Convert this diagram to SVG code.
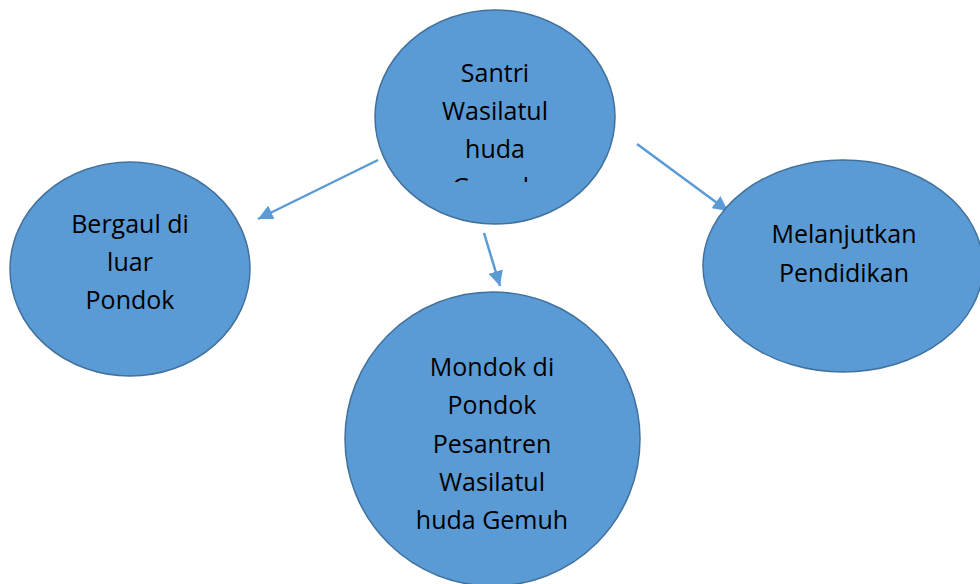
<svg xmlns="http://www.w3.org/2000/svg" width="980" height="584" viewBox="0 0 980 584">
<style>
.node{fill:#5b9bd5;stroke:#41719c;stroke-width:1.5}
.lbl{font-family:"Open Sans","Liberation Sans",sans-serif;font-size:25px;fill:#000;text-anchor:middle}
.conn{stroke:#5b9bd5;stroke-width:2.5;fill:none}
</style>
<defs>
<marker id="ah" viewBox="0 0 10 10" refX="10" refY="5" markerWidth="6" markerHeight="6" orient="auto" markerUnits="strokeWidth">
<path d="M0,0 L10,5 L0,10 z" fill="#5b9bd5"/>
</marker>
<clipPath id="topclip"><rect x="370" y="0" width="260" height="182"/></clipPath>
</defs>
<rect width="980" height="584" fill="#fff"/>
<g id="connectors">
<line class="conn" x1="378" y1="160" x2="258" y2="219" marker-end="url(#ah)"/>
<line class="conn" x1="484" y1="233" x2="500" y2="286" marker-end="url(#ah)"/>
<line class="conn" x1="637" y1="144" x2="728" y2="211" marker-end="url(#ah)"/>
</g>
<g id="santri">
<ellipse class="node" cx="495" cy="117" rx="120" ry="107"/>
<text class="lbl" x="495" y="82">Santri</text>
<text class="lbl" x="495" y="120">Wasilatul</text>
<text class="lbl" x="495" y="158">huda</text>
<text class="lbl" x="495" y="196" clip-path="url(#topclip)">Gemuh</text>
</g>
<g id="bergaul">
<ellipse class="node" cx="130" cy="269" rx="120" ry="107"/>
<text class="lbl" x="130" y="233">Bergaul di</text>
<text class="lbl" x="130" y="271">luar</text>
<text class="lbl" x="130" y="309">Pondok</text>
</g>
<g id="melanjutkan">
<ellipse class="node" cx="843" cy="266" rx="140" ry="106"/>
<text class="lbl" x="844" y="243">Melanjutkan</text>
<text class="lbl" x="844" y="282">Pendidikan</text>
</g>
<g id="mondok">
<ellipse class="node" cx="492.5" cy="439" rx="147.5" ry="147"/>
<text class="lbl" x="492" y="376">Mondok di</text>
<text class="lbl" x="492" y="414">Pondok</text>
<text class="lbl" x="492" y="453">Pesantren</text>
<text class="lbl" x="492" y="491">Wasilatul</text>
<text class="lbl" x="492" y="529">huda Gemuh</text>
</g>
</svg>
